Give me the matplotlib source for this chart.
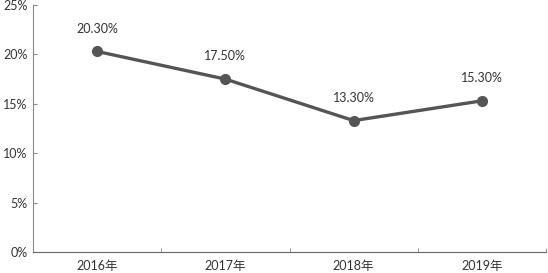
import matplotlib.pyplot as plt
import numpy as np

plt.rcParams['font.family'] = ['Lato', 'Noto Sans CJK SC', 'DejaVu Sans']

years = ['2016年', '2017年', '2018年', '2019年']
rates = [20.3, 17.5, 13.3, 15.3]
yticks = [0, 5, 10, 15, 20, 25]

fig = plt.figure(figsize=(5.48, 2.73), dpi=100)
ax = fig.add_axes([33/548, 21/273, 513/548, 247/273])

x = np.arange(len(years))
ax.plot(x, rates, color='#555555', lw=2.4, marker='o', ms=7)
for xi, v in zip(x, rates):
    ax.annotate(f'{v:.2f}%', (xi, v), xytext=(0, 12), textcoords='offset points',
                ha='center', va='bottom', fontsize=9, color='#333333')

ax.set_xlim(-0.5, 3.5)
ax.set_ylim(0, 25)
ax.set_yticks(yticks)
ax.set_yticklabels([f'{t}%' for t in yticks])
ax.set_xticks(x)
ax.set_xticklabels(years)
ax.set_xticks(x + 0.5, minor=True)
ax.tick_params(axis='x', which='major', length=0, pad=6, labelsize=9, colors='#333333')
ax.tick_params(axis='x', which='minor', direction='in', length=3, color='#888888')
ax.tick_params(axis='y', direction='in', length=3, color='#888888', labelsize=9,
               labelcolor='#333333', pad=4)
for s in ['top', 'right']:
    ax.spines[s].set_visible(False)
ax.spines['left'].set_color('#888888')
ax.spines['bottom'].set_color('#666666')

fig.savefig('out.png', dpi=100)
